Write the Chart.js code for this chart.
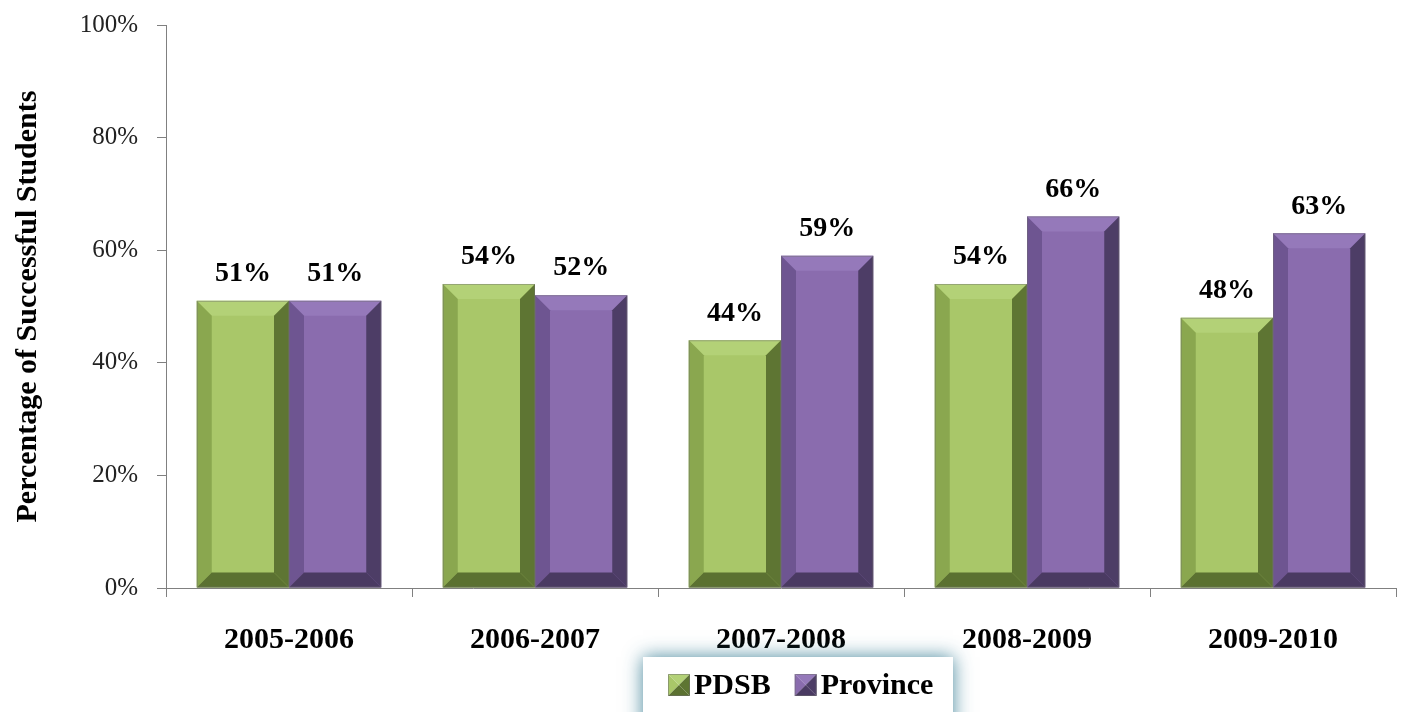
<!DOCTYPE html>
<html lang="en">
<head>
  <meta charset="UTF-8" />
  <title>Percentage of Successful Students</title>
  <script src="https://cdn.jsdelivr.net/npm/chart.js@4.4.0"></script>
  <style>
    body { margin: 0; background: #fff; }
    canvas { display: block; }
  </style>
</head>
<body>
  <canvas id="chart" width="1407" height="712"></canvas>
  <script>
    const years = ['2005-2006', '2006-2007', '2007-2008', '2008-2009', '2009-2010'];
    const pdsb = [51, 54, 44, 54, 48];
    const province = [51, 52, 59, 66, 63];

    const serif = "'Liberation Serif', 'Times New Roman', serif";

    // face, top, left, right, bottom shades for each series
    const shades = [
      { face: '#a9c769', top: '#b3d177', left: '#8aa74f', right: '#5e7533', bottom: '#5b7131' },
      { face: '#8a6cae', top: '#9579ba', left: '#6e5591', right: '#4d3d66', bottom: '#4a3a62' }
    ];

    function poly(ctx, pts, color) {
      ctx.beginPath();
      ctx.moveTo(pts[0][0], pts[0][1]);
      for (let i = 1; i < pts.length; i++) ctx.lineTo(pts[i][0], pts[i][1]);
      ctx.closePath();
      ctx.fillStyle = color;
      ctx.fill();
    }

    const bevelBars = {
      id: 'bevelBars',
      afterDatasetsDraw(chart) {
        const ctx = chart.ctx;
        ctx.save();
        chart.data.datasets.forEach((ds, di) => {
          const s = shades[di];
          chart.getDatasetMeta(di).data.forEach((bar, i) => {
            const L = bar.x - bar.width / 2, R = bar.x + bar.width / 2;
            const T = bar.y, B = bar.base;
            const b = 15;
            poly(ctx, [[L, T], [R, T], [R - b, T + b], [L + b, T + b]], s.top);
            poly(ctx, [[L, T], [L + b, T + b], [L + b, B - b], [L, B]], s.left);
            poly(ctx, [[R, T], [R, B], [R - b, B - b], [R - b, T + b]], s.right);
            poly(ctx, [[L, B], [L + b, B - b], [R - b, B - b], [R, B]], s.bottom);
            ctx.strokeStyle = 'rgba(110,110,110,0.45)';
            ctx.lineWidth = 1;
            ctx.strokeRect(L + 0.5, T + 0.5, R - L - 1, B - T - 1);

            ctx.fillStyle = '#000';
            ctx.font = 'bold 28px ' + serif;
            ctx.textAlign = 'center';
            ctx.textBaseline = 'middle';
            ctx.fillText(ds.data[i] + '%', bar.x, T - 27);
          });
        });
        ctx.restore();
      }
    };

    const boxLegend = {
      id: 'boxLegend',
      afterDraw(chart) {
        const ctx = chart.ctx;
        ctx.save();
        ctx.shadowColor = 'rgba(40,115,140,0.85)';
        ctx.shadowBlur = 18;
        ctx.fillStyle = '#fff';
        ctx.fillRect(643, 657, 310, 80);
        ctx.restore();

        ctx.save();
        ctx.font = 'bold 30px ' + serif;
        ctx.textBaseline = 'middle';
        ctx.textAlign = 'left';
        let x = 668;
        const cy = 685, sz = 22;
        chart.data.datasets.forEach((ds, di) => {
          const s = shades[di];
          const l = x, t = cy - sz / 2, r = x + sz, bt = cy + sz / 2, cx = x + sz / 2;
          poly(ctx, [[l, t], [r, t], [cx, cy]], s.top);
          poly(ctx, [[l, t], [cx, cy], [l, bt]], s.face);
          poly(ctx, [[r, t], [r, bt], [cx, cy]], s.right);
          poly(ctx, [[l, bt], [cx, cy], [r, bt]], s.bottom);
          ctx.strokeStyle = 'rgba(110,110,110,0.5)';
          ctx.strokeRect(l + 0.5, t + 0.5, sz - 1, sz - 1);
          ctx.fillStyle = '#000';
          ctx.fillText(ds.label, r + 4, cy + 1);
          x = r + 4 + ctx.measureText(ds.label).width + 24;
        });
        ctx.restore();
      }
    };

    new Chart(document.getElementById('chart'), {
      type: 'bar',
      data: {
        labels: years,
        datasets: [
          { label: 'PDSB', data: pdsb, backgroundColor: shades[0].face },
          { label: 'Province', data: province, backgroundColor: shades[1].face }
        ]
      },
      options: {
        responsive: false,
        animation: false,
        layout: { padding: { top: 25, right: 11, left: 0, bottom: 0 } },
        datasets: { bar: { categoryPercentage: 0.75, barPercentage: 1.0 } },
        scales: {
          x: {
            grid: { drawOnChartArea: false, tickLength: 9, color: '#808080', offset: true },
            border: { color: '#808080' },
            ticks: { color: '#000', padding: 25, font: { family: serif, size: 30, weight: 'bold' } },
            afterFit(s) { s.height = 124; }
          },
          y: {
            min: 0,
            max: 100,
            grid: { drawOnChartArea: false, tickLength: 9, color: '#808080' },
            border: { color: '#808080' },
            ticks: {
              stepSize: 20,
              color: '#222',
              padding: 19,
              font: { family: serif, size: 25 },
              callback: v => v + '%'
            },
            title: {
              display: true,
              text: 'Percentage of Successful Students',
              color: '#000',
              padding: { top: 10, bottom: 0 },
              font: { family: serif, size: 30, weight: 'bold' }
            },
            afterFit(s) {
              s.width = 166;
              s.paddingTop = 12;
              s.paddingBottom = 12;
            }
          }
        },
        plugins: {
          legend: { display: false },
          tooltip: { enabled: false }
        }
      },
      plugins: [bevelBars, boxLegend]
    });
  </script>
</body>
</html>
